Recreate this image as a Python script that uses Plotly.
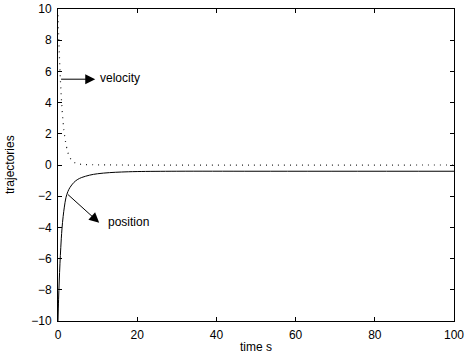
import plotly.graph_objects as go

# data
t_pos = [0, 0.15, 0.3, 0.5, 0.7, 1.0, 1.3, 1.6, 2.0, 2.5, 3.0, 4.0, 5.0, 6.0, 8.0, 10.0, 13.0, 16.0, 20.0, 30.0, 50.0, 100.0]
position = [-10, -8.6, -7.5, -6.3, -5.3, -4.1, -3.3, -2.7, -2.1, -1.7, -1.45, -1.12, -0.92, -0.8, -0.65, -0.56, -0.49, -0.45, -0.42, -0.4, -0.4, -0.4]
t_vel = [0, 0.2, 0.4, 0.6, 0.8, 1.0, 1.3, 1.6, 2.0, 2.5, 3.0, 3.5, 4.0, 5.0, 6.0, 8.0, 10.0, 15.0, 100.0]
velocity = [9.6, 8.0, 6.7, 5.5, 4.5, 3.7, 2.7, 2.0, 1.35, 0.8, 0.48, 0.3, 0.18, 0.08, 0.04, 0.02, 0.01, 0.0, 0.0]
x_ticks = [0, 20, 40, 60, 80, 100]
y_ticks = [-10, -8, -6, -4, -2, 0, 2, 4, 6, 8, 10]

fig = go.Figure()
fig.add_trace(go.Scatter(x=t_vel, y=velocity, mode="lines", line=dict(color="#222222", width=1.2, dash="1px,5px"), line_shape="spline"))
fig.add_trace(go.Scatter(x=t_pos, y=position, mode="lines", line=dict(color="black", width=1), line_shape="spline"))

font = dict(family="Liberation Sans, Arial, sans-serif", size=12, color="black")

# velocity arrow + label
fig.add_annotation(x=9.4, y=5.5, ax=0.4, ay=5.5, xref="x", yref="y", axref="x", ayref="y",
                   showarrow=True, arrowhead=2, arrowsize=2, arrowwidth=1, arrowcolor="black", text="")
fig.add_annotation(x=10.2, y=5.6, xref="x", yref="y", text="velocity", showarrow=False, xanchor="left", font=font)
# position arrow + label
fig.add_annotation(x=10.4, y=-3.7, ax=2.1, ay=-1.8, xref="x", yref="y", axref="x", ayref="y",
                   showarrow=True, arrowhead=2, arrowsize=2, arrowwidth=1, arrowcolor="black", text="")
fig.add_annotation(x=12.0, y=-3.65, xref="x", yref="y", text="position", showarrow=False, xanchor="left", font=font)

axis_common = dict(showgrid=False, zeroline=False, showline=True, linecolor="black", linewidth=1,
                   mirror="ticks", ticks="inside", ticklen=4, tickcolor="black", tickfont=font,
                   automargin=False, ticklabelstandoff=3)
fig.update_xaxes(range=[0, 100], tickvals=x_ticks, **axis_common)
fig.update_yaxes(range=[-10, 10], tickvals=y_ticks, tickformat="d", **axis_common)
fig.add_annotation(x=0.5, y=0, xref="paper", yref="paper", yanchor="middle", yshift=-26, text="time s",
                   showarrow=False, font=font)
fig.add_annotation(x=0, y=0.5, xref="paper", yref="paper", xanchor="center", xshift=-48, text="trajectories",
                   textangle=-90, showarrow=False, font=font)
fig.update_layout(width=465, height=358, margin=dict(l=58, r=11, t=9, b=37),
                  plot_bgcolor="white", paper_bgcolor="white", showlegend=False, font=font)
fig.write_html("out.html", config={"displayModeBar": False},
               post_script="document.body.style.margin='0';document.body.style.padding='0';")
